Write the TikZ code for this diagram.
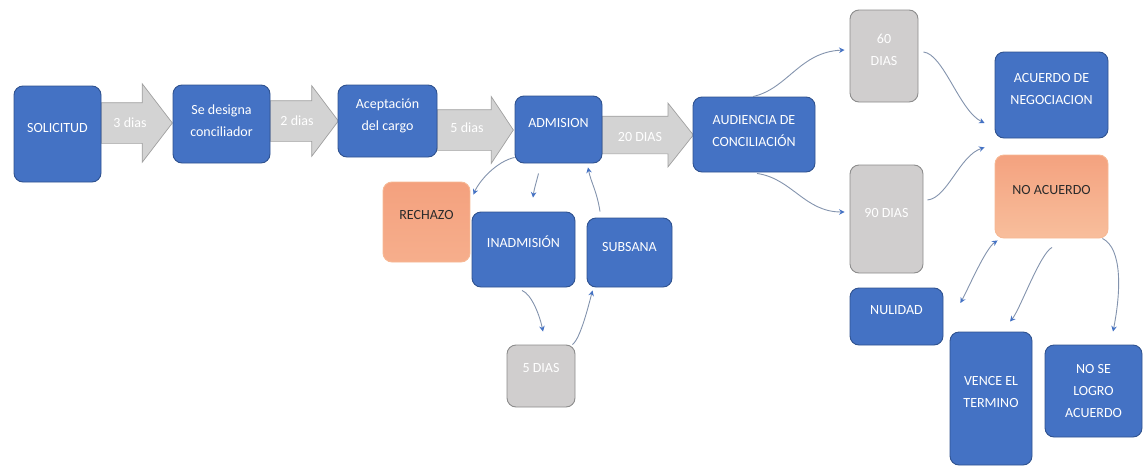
\documentclass[tikz,border=0pt]{standalone}
\usepackage{fontspec}
\setmainfont{Carlito}
\usetikzlibrary{shapes.arrows,arrows.meta,calc}
\definecolor{bblue}{HTML}{4472C4}
\definecolor{bborder}{HTML}{2F528F}
\definecolor{gfill}{HTML}{D0CECE}
\definecolor{gborder}{HTML}{8C8C8C}
\definecolor{afill}{HTML}{D3D3D3}
\definecolor{aborder}{HTML}{A0A0A0}
\definecolor{otop}{HTML}{F4A27F}
\definecolor{obot}{HTML}{F8BE9C}
\definecolor{rtop}{HTML}{F4A17E}
\definecolor{rbot}{HTML}{F6AE8C}
\definecolor{oborder}{HTML}{F6B894}
\definecolor{conncol}{HTML}{8393AD}
\definecolor{tipblue}{HTML}{4472C4}
\definecolor{dtext}{HTML}{2B2B2B}
\newcommand{\boxtxt}[2][6pt]{\raisebox{#1}[\height][\depth]{\begin{tabular}{@{}c@{}}#2\end{tabular}}}
\begin{document}
\begin{tikzpicture}[x=1pt,y=-1pt,
  every node/.style={font=\fontsize{14}{22}\selectfont},
  wh/.style 2 args={minimum width=#1,minimum height=#2},
  bluebox/.style={rectangle,rounded corners=9pt,inner sep=0pt,line width=0.9pt,fill=bblue,draw=bborder,text=white},
  graybox/.style={rectangle,rounded corners=9pt,inner sep=0pt,line width=0.9pt,fill=gfill,draw=gborder,text=white},
  orbox/.style={rectangle,rounded corners=9pt,inner sep=0pt,line width=0.9pt,top color=otop,bottom color=obot,draw=oborder,text=dtext},
  bigarrow/.style={shape=single arrow,fill=afill,draw=aborder,line width=0.7pt,inner xsep=0pt,inner ysep=20pt,single arrow head indent=0pt,anchor=tail},
  arrowtxt/.style={text=white,inner sep=0pt},
  connector/.style={draw=conncol,line width=0.9pt,-{Stealth[length=5.5pt,width=5.5pt,color=tipblue]}},
  connboth/.style={draw=conncol,line width=0.9pt,{Stealth[length=5.5pt,width=5.5pt,color=tipblue]}-{Stealth[length=5.5pt,width=5.5pt,color=tipblue]}}
]
\useasboundingbox (0,0) rectangle (1143,466);

% big grey arrows
\node[bigarrow,minimum height=71,single arrow head extend=19,single arrow tip angle=105] (a1) at (101,123) {};
\node[bigarrow,minimum height=68,single arrow head extend=15,single arrow tip angle=106] (a2) at (270,121) {};
\node[bigarrow,minimum height=76,single arrow head extend=13,single arrow tip angle=113] (a3) at (437,130) {};
\node[bigarrow,minimum height=91,inner ysep=18.5pt,single arrow head extend=13,single arrow tip angle=103] (a4) at (602,135) {};
\node[arrowtxt] (t1) at ($(a1.tail)+(29,0)$) {3 dias};
\node[arrowtxt] (t2) at ($(a2.tail)+(27,0)$) {2 dias};
\node[arrowtxt] (t3) at ($(a3.tail)+(30,-2)$) {5 dias};
\node[arrowtxt] (t4) at ($(a4.tail)+(38,2)$) {20 DIAS};

% boxes
\node[bluebox,wh={87}{96}] (sol) at (57.5,134) {\boxtxt{SOLICITUD}};
\node[bluebox,wh={97}{78}] (sd) at (221.5,124) {\boxtxt[3pt]{Se designa\\conciliador}};
\node[bluebox,wh={99}{72}] (ac) at (387.5,121) {\boxtxt{Aceptación\\del cargo}};
\node[bluebox,wh={87}{67}] (adm) at (558.5,129.5) {\boxtxt{ADMISION}};
\node[bluebox,wh={122}{75}] (aud) at (754,134.5) {\boxtxt[3pt]{AUDIENCIA DE\\CONCILIACIÓN}};
\node[orbox,top color=rtop,bottom color=rbot,wh={87}{80}] (rech) at (426.5,222) {\boxtxt[7pt]{RECHAZO}};
\node[bluebox,wh={103}{75}] (inad) at (523.5,249.5) {\boxtxt{INADMISIÓN}};
\node[bluebox,wh={85}{69}] (sub) at (629.5,252.5) {\boxtxt[5pt]{SUBSANA}};
\node[graybox,wh={68}{62}] (d5) at (541,376) {\boxtxt[8pt]{5 DIAS}};
\node[graybox,wh={68}{92}] (d60) at (884,56) {\boxtxt{60\\DIAS}};
\node[graybox,wh={73}{108}] (d90) at (886.5,219) {\boxtxt{90 DIAS}};
\node[bluebox,wh={113}{86}] (acn) at (1051.5,95) {\boxtxt{ACUERDO DE\\NEGOCIACION}};
\node[orbox,wh={113}{83}] (noac) at (1051.5,196.5) {\boxtxt{NO ACUERDO}};
\node[bluebox,wh={93}{57}] (nul) at (896.5,316.5) {\boxtxt{NULIDAD}};
\node[bluebox,wh={82}{133}] (ven) at (991,398.5) {\boxtxt{VENCE EL\\TERMINO}};
\node[bluebox,wh={97}{92}] (nsl) at (1093.5,391) {\boxtxt[0pt]{NO SE\\LOGRO\\ACUERDO}};

% connectors
\draw[connector] ($(adm.south west)+(0,-6)$) .. controls +(-18,4) and +(6,-14) .. ($(rech.north east)+(3,13)$);
\draw[connector] ($(adm.south)+(-20,10)$) .. controls +(-2,8) and +(1,-8) .. ($(inad.north)+(9.5,-14)$);
\draw[connector] ($(sub.north)+(-29.5,-6)$) .. controls +(-3,-20) and +(3,15) .. ($(adm.south)+(29.5,4)$);
\draw[connector] ($(inad.south)+(-1.5,3)$) .. controls +(10,4) and +(-3,-15) .. ($(d5.north)+(2,-13)$);
\draw[connector] ($(d5.north east)+(-3,0)$) .. controls +(8,-6) and +(-4,15) .. ($(sub.south west)+(6,3)$);
\draw[connector] ($(aud.north)+(-1,0)$) .. controls +(35,-8) and +(-45,2) .. ($(d60.west)+(-5,-6)$);
\draw[connector] ($(aud.south)+(3,1)$) .. controls +(35,5) and +(-40,0) .. ($(d90.west)+(-5,-7)$);
\draw[connector] ($(d60.east)+(5,-4)$) .. controls +(20,2) and +(-25,-12) .. ($(acn.west)+(-10,28)$);
\draw[connector] ($(d90.east)+(4,-19)$) .. controls +(20,-2) and +(-25,8) .. ($(acn.south west)+(-10,9)$);
\draw[connboth] ($(noac.south west)+(3,2)$) .. controls +(-12,8) and +(8,-15) .. ($(nul.east)+(17,-13.5)$);
\draw[connector] ($(noac.south)+(0.5,9)$) .. controls +(-12,6) and +(10,-12) .. ($(ven.north)+(19,-10)$);
\draw[connector] ($(noac.south east)+(-6,0)$) .. controls +(20,10) and +(8,-40) .. ($(nsl.north)+(19.5,-13)$);
\end{tikzpicture}
\end{document}
